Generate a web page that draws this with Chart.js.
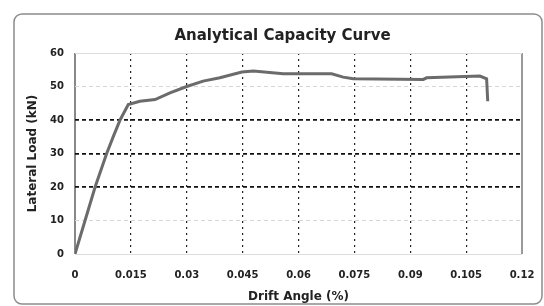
<!DOCTYPE html>
<html>
<head>
<meta charset="utf-8">
<script src="https://cdn.jsdelivr.net/npm/chart.js@4.4.1/dist/chart.umd.min.js"></script>
<style>
  html, body { margin: 0; padding: 0; background: #fff; }
  #wrap { width: 544px; height: 306px; position: relative; }
</style>
</head>
<body>
<div id="wrap"><canvas id="capacity-chart"></canvas></div>
<script>
// capacity curve
const driftAngle = [0, 0.0027, 0.0054, 0.0085, 0.0103, 0.0121, 0.0143, 0.0174, 0.0215, 0.0255, 0.03, 0.0344,
  0.0389, 0.0448, 0.0479, 0.0559, 0.0689, 0.072, 0.0747, 0.0935, 0.0944, 0.1087, 0.1105, 0.1108]
const lateralLoad = [0, 10, 20, 30, 35.1, 40, 44.6, 45.6, 46.1, 48.1, 50, 51.6,
  52.6, 54.3, 54.6, 53.8, 53.8, 52.8, 52.3, 52.1, 52.6, 53.1, 52.3, 45.6]

const xTicks = [0, 0.015, 0.03, 0.045, 0.06, 0.075, 0.09, 0.105, 0.12]
const xTickLabels = ['0', '0.015', '0.03', '0.045', '0.06', '0.075', '0.09', '0.105', '0.12']
const yTicks = [0, 10, 20, 30, 40, 50, 60]

const tickFont = { family: 'DejaVu Sans', size: 10, weight: 'bold' }
const titleFont = { family: 'DejaVu Sans', size: 12, weight: 'bold' }

// horizontal grid: 20/30/40 dark dashed, 10/50 light dashed, 0/60 light solid
const yGridColor = (c) => {
  const v = c.tick && c.tick.value
  if (v === 20 || v === 30 || v === 40) return '#111'
  if (v === 10 || v === 50) return '#d6d6d6'
  return '#dcdcdc'
}
const yGridWidth = (c) => {
  const v = c.tick && c.tick.value
  return (v === 20 || v === 30 || v === 40) ? 1.7 : 1
}
const yGridDash = (c) => {
  const v = c.tick && c.tick.value
  return (v === 0 || v === 60) ? [] : [4, 3]
}

// vertical grid: dotted dark, axis lines solid grey
const isEdge = (c) => c.tick && (c.tick.value === 0 || c.tick.value === 0.12)
const xGridColor = (c) => {
  if (!c.tick) return '#222'
  if (c.tick.value === 0) return '#888'
  if (c.tick.value === 0.12) return '#9a9a9a'
  return '#222'
}
const xGridWidth = (c) => isEdge(c) ? 2 : 1.2
const xGridDash = (c) => isEdge(c) ? [] : [2, 4]

const framePlugin = {
  id: 'frame',
  beforeDraw (chart) {
    const ctx = chart.ctx
    ctx.save()
    ctx.fillStyle = '#fff'
    ctx.fillRect(0, 0, chart.width, chart.height)
    ctx.strokeStyle = '#8c8c8c'
    ctx.lineWidth = 1.5
    ctx.beginPath()
    ctx.roundRect(14, 14, 528, 290, 8)
    ctx.stroke()
    ctx.restore()
  }
}

const drawChart = () => {
  const ctx = document.getElementById('capacity-chart')

  const options = {
    type: 'line',
    data: {
      datasets: [{
        label: 'Capacity',
        data: driftAngle.map((x, i) => ({ x, y: lateralLoad[i] })),
        borderColor: '#6b6b6b',
        borderWidth: 3,
        pointRadius: 0,
        tension: 0,
        fill: false
      }]
    },
    options: {
      responsive: true,
      maintainAspectRatio: false,
      animation: false,
      layout: { padding: { left: 21, right: 0, top: 14, bottom: 0 } },
      plugins: {
        legend: { display: false },
        tooltip: { enabled: false },
        title: {
          display: true,
          text: 'Analytical Capacity Curve',
          color: '#222',
          font: { family: 'DejaVu Sans', size: 15, weight: 'bold' },
          padding: { top: 13.5, bottom: 7.5 }
        }
      },
      scales: {
        x: {
          type: 'linear',
          min: 0,
          max: 0.12,
          afterBuildTicks: (scale) => { scale.ticks = xTicks.map(v => ({ value: v })) },
          afterFit: (scale) => { scale.height = 52 },
          ticks: {
            autoSkip: false,
            color: '#222',
            font: tickFont,
            padding: 2,
            maxRotation: 0,
            callback: (v, i) => xTickLabels[i]
          },
          grid: {
            color: xGridColor,
            lineWidth: xGridWidth,
            drawTicks: true,
            tickLength: 13,
            tickColor: 'rgba(0,0,0,0)'
          },
          border: { display: false, dash: xGridDash },
          title: {
            display: true,
            text: 'Drift Angle (%)',
            color: '#222',
            font: titleFont,
            padding: { top: 0, bottom: 2 }
          }
        },
        y: {
          min: 0,
          max: 60,
          afterBuildTicks: (scale) => { scale.ticks = yTicks.map(v => ({ value: v })) },
          afterFit: (scale) => { scale.width = 54 },
          ticks: { color: '#222', font: tickFont, padding: 11 },
          grid: { color: yGridColor, lineWidth: yGridWidth, drawTicks: false },
          border: { display: false, dash: yGridDash },
          title: {
            display: true,
            text: 'Lateral Load (kN)',
            color: '#222',
            font: titleFont,
            padding: { top: 4.8, bottom: 0 }
          }
        },
        // empty right axis, only keeps the plot clear of the frame
        yRight: {
          position: 'right',
          display: true,
          afterFit: (scale) => { scale.width = 22 },
          ticks: { display: false },
          grid: { drawOnChartArea: false, drawTicks: false },
          border: { display: false }
        }
      }
    },
    plugins: [framePlugin]
  }

  return new Chart(ctx, options)
}

drawChart()
</script>
</body>
</html>
